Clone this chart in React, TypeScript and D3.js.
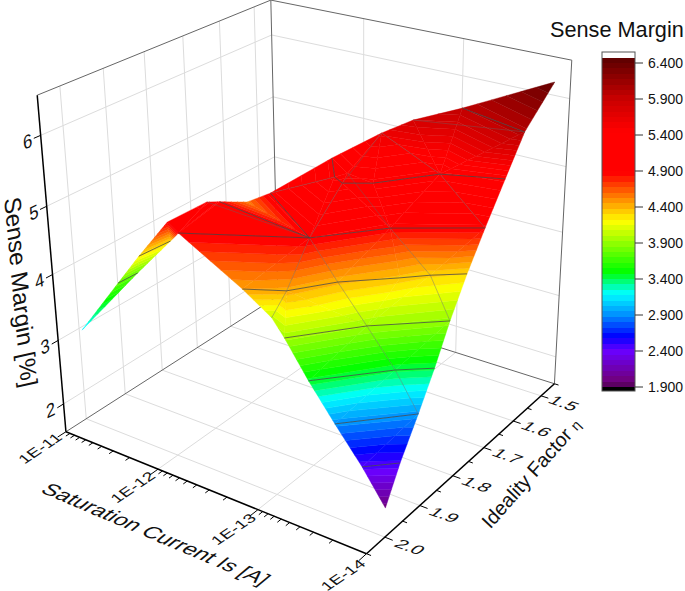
import React from 'react';
import * as d3 from 'd3';

const width = 685;
const height = 591;

// axis ranges
const isRange = [-11, -14]; // log10 of saturation current
const etaRange = [2.05, 1.45];
const zRange = [1.55, 6.55];

const isTicks = [-11, -12, -13, -14];
const isTickLabels = ['1E-11', '1E-12', '1E-13', '1E-14'];
const etaTicks = [1.5, 1.6, 1.7, 1.8, 1.9, 2.0];
const etaTickLabels = ['1.5', '1.6', '1.7', '1.8', '1.9', '2.0'];
const etaMinor = [1.45, 1.55, 1.65, 1.75, 1.85, 1.95, 2.05];
const zTicks = [2, 3, 4, 5, 6];
const barTicks = [1.9, 2.4, 2.9, 3.4, 3.9, 4.4, 4.9, 5.4, 5.9, 6.4];

// measured surface vertices
const surfaceIs = [
  -11.16, -11.33, -11.34, -11.56, -11.63, -11.89, -12.09, -11.99, -11.97, -11.88,
  -12.26, -12.97, -12.74, -13.01, -13.23, -12.92, -13.12, -13.51, -13.97, -13.33,
  -13.76, -13.99, -13.53, -13.98, -13.79, -14.01, -14.01, -13.70, -13.91, -13.36,
  -13.97, -13.55, -12.86, -12.78, -12.54, -12.82, -13.06, -13.40, -13.91, -12.82,
  -13.04, -13.35, -14.05, -14.03,
];
const surfaceEta = [
  2.026, 1.970, 1.924, 1.967, 1.905, 1.970, 1.992, 1.896, 1.859, 1.764,
  1.801, 1.894, 2.004, 1.966, 1.895, 1.981, 2.004, 1.900, 1.810, 2.003,
  1.898, 1.860, 1.993, 1.902, 1.998, 1.962, 2.002, 1.780, 1.740, 1.789,
  1.709, 1.820, 1.772, 1.770, 1.707, 1.746, 1.745, 1.655, 1.627, 1.646,
  1.621, 1.571, 1.622, 1.519,
];
const surfaceZ = [
  3.15, 3.75, 3.75, 4.25, 4.3, 4.9, 4.9, 5.0, 4.88, 4.55,
  4.95, 4.9, 4.45, 4.42, 4.4, 4.05, 3.95, 3.93, 3.9, 3.45,
  3.42, 3.42, 2.9, 2.92, 2.45, 2.48, 2.0, 4.32, 4.3, 4.87,
  4.88, 4.35, 5.25, 5.3, 5.3, 5.3, 5.25, 5.25, 5.3, 5.6,
  5.8, 5.95, 6.0, 6.42,
];
const triangles = [
  [0, 1, 2], [1, 3, 2], [2, 3, 4], [3, 5, 4], [4, 5, 6], [5, 7, 6], [6, 7, 8], [6, 8, 11], [8, 9, 11], [9, 10, 11],
  [10, 33, 11], [10, 34, 33], [6, 11, 12], [11, 13, 12], [11, 14, 13], [12, 13, 15], [13, 16, 15], [13, 17, 16], [13, 14, 17],
  [11, 33, 32], [11, 32, 29], [32, 36, 29], [11, 29, 14], [14, 29, 31], [31, 29, 27], [29, 30, 27], [27, 30, 28],
  [14, 31, 17], [31, 27, 17], [17, 27, 18], [27, 28, 18], [16, 17, 19], [17, 20, 19], [17, 18, 20], [18, 21, 20],
  [19, 20, 22], [20, 23, 22], [20, 21, 23], [22, 23, 24], [23, 25, 24], [24, 25, 26],
  [33, 35, 32], [35, 36, 32], [33, 34, 35], [34, 39, 35], [35, 39, 36], [36, 39, 37], [39, 40, 37], [40, 41, 37], [41, 42, 37],
  [41, 43, 42], [37, 42, 38], [36, 37, 29], [37, 30, 29], [37, 38, 30],
];
const rowLines = [
  [1, 2], [3, 4], [6, 11, 29, 30], [12, 13, 14, 31, 27, 28], [16, 17, 18], [19, 20, 21], [22, 23], [24, 25],
  [34, 33, 32, 36, 37, 38], [41, 42], [10, 11], [8, 11],
];
const meshLines = [
  [15, 13, 11, 32, 39], [11, 14, 17, 20, 23], [35, 29, 27, 18], [39, 37, 30], [10, 33], [7, 11], [40, 42],
];

const colorStops = [1.9, 2.0, 2.4, 2.6, 2.9, 3.2, 3.5, 4.2, 4.87, 5.45, 5.9, 6.4, 6.55];
const colorRange = ['#500050', '#70007f', '#6a00ff', '#0000ff', '#0090ff', '#00ffff', '#00ff00', '#ffff00', '#ff0000', '#ff0000', '#c80000', '#680000', '#500000'];
const color = d3.scaleLinear<string>().domain(colorStops).range(colorRange);

const levelStep = 0.075;
const levels = d3.range(0, 61).map(i => 1.9 + i * levelStep);

const toU = d3.scaleLinear().domain(isRange).range([0, 1]);
const toV = d3.scaleLinear().domain(etaRange).range([0, 1]);
const toW = d3.scaleLinear().domain(zRange).range([0, 1]);

// [log Is, eta, z, screen x, screen y] reference points of the axis frame
const anchors: number[][] = [
  [-11, 2.05, 1.55, 67, 433], [-14, 2.05, 1.55, 367, 553], [-14, 1.45, 1.55, 553, 383], [-11, 1.45, 1.55, 278, 296],
  [-11, 2.05, 6.55, 37, 97], [-11, 1.45, 6.55, 271, 0], [-14, 1.45, 6.55, 572, 60],
  [-11, 2.05, 2, 63, 403], [-11, 2.05, 3, 58, 339], [-11, 2.05, 4, 53, 275], [-11, 2.05, 5, 47, 205], [-11, 2.05, 6, 40, 135],
  [-14, 2, 1.55, 385, 537], [-14, 1.5, 1.55, 542, 397], [-12, 2.05, 1.55, 157, 470], [-13, 2.05, 1.55, 258, 510],
];

// least squares fit of the perspective camera
function fitCamera(pts: number[][]) {
  const n = 11;
  const A = d3.range(n).map(() => d3.range(n + 1).map(() => 0));
  pts.forEach(([x, e, z, sx, sy]) => {
    const u = toU(x), v = toV(e), w = toW(z);
    const rows = [
      [u, v, w, 1, 0, 0, 0, 0, -sx * u, -sx * v, -sx * w, sx],
      [0, 0, 0, 0, u, v, w, 1, -sy * u, -sy * v, -sy * w, sy],
    ];
    rows.forEach(r => {
      for (let i = 0; i < n; i++) for (let j = 0; j <= n; j++) A[i][j] += r[i] * r[j];
    });
  });
  for (let i = 0; i < n; i++) {
    let p = i;
    for (let k = i + 1; k < n; k++) if (Math.abs(A[k][i]) > Math.abs(A[p][i])) p = k;
    [A[i], A[p]] = [A[p], A[i]];
    for (let k = 0; k < n; k++) {
      if (k === i) continue;
      const f = A[k][i] / A[i][i];
      for (let j = i; j <= n; j++) A[k][j] -= f * A[i][j];
    }
  }
  return d3.range(n).map(i => A[i][n] / A[i][i]);
}
const P = fitCamera(anchors);

function project(x: number, e: number, z: number): [number, number] {
  const u = toU(x), v = toV(e), w = toW(z);
  const d = P[8] * u + P[9] * v + P[10] * w + 1;
  return [(P[0] * u + P[1] * v + P[2] * w + P[3]) / d, (P[4] * u + P[5] * v + P[6] * w + P[7]) / d];
}

const line = d3.line();
const seg = (a: number[], b: number[]) => line([project(a[0], a[1], a[2]), project(b[0], b[1], b[2])]) as string;

const [zMin, zMax] = zRange;
const [isL, isR] = isRange;
const [etaF, etaB] = etaRange;

// clip a triangle to one band of z values
function clipBand(tri: number[][], lo: number, hi: number) {
  const clip = (poly: number[][], keep: (p: number[]) => boolean, level: number) => {
    const out: number[][] = [];
    poly.forEach((p, i) => {
      const q = poly[(i + 1) % poly.length];
      if (keep(p)) out.push(p);
      if (keep(p) !== keep(q)) {
        const t = (level - p[2]) / (q[2] - p[2]);
        out.push([p[0] + t * (q[0] - p[0]), p[1] + t * (q[1] - p[1]), level]);
      }
    });
    return out;
  };
  return clip(clip(tri, p => p[2] >= lo, lo), p => p[2] <= hi, hi);
}

const vertex = (i: number) => [surfaceIs[i], surfaceEta[i], surfaceZ[i]];
const polyPath = (ids: number[]) => line(ids.map(i => project(surfaceIs[i], surfaceEta[i], surfaceZ[i]))) as string;

const bands: { d: string; fill: string }[] = [];
triangles.forEach(t => {
  const tri = t.map(vertex);
  levels.forEach(lo => {
    const poly = clipBand(tri, lo, lo + levelStep);
    if (poly.length < 3) return;
    bands.push({
      d: (line(poly.map(p => project(p[0], p[1], p[2]))) as string) + 'Z',
      fill: color(lo + levelStep / 2),
    });
  });
});

const barY = d3.scaleLinear().domain([1.9, 6.4]).range([387, 63]);

// log minor ticks of the current axis
const isMinor = [-12, -13, -14].flatMap(d => [9, 8, 7, 6, 5, 4, 3, 2].map(k => d + Math.log10(k)));

const font = 'Liberation Sans, Arial, sans-serif';

type LabelProps = { at: [number, number]; base: [number, number]; down: [number, number]; size: number; children: React.ReactNode; anchor?: string };
// text laid onto the plane of the box: base and down are the glyph axes
function Label({ at, base, down, size, children, anchor = 'middle' }: LabelProps) {
  return (
    <text
      transform={`matrix(${base[0]} ${base[1]} ${down[0]} ${down[1]} ${at[0]} ${at[1]})`}
      fontSize={size}
      textAnchor={anchor}
      dy="0.35em"
      fill="#111"
    >
      {children}
    </text>
  );
}

export default function App() {
  const gridColor = '#dcdcdc';
  const frameColor = '#666';
  return (
    <svg width={width} height={height} style={{ position: 'absolute', left: 0, top: 0 }} fontFamily={font}>
      <g fill="none" stroke={gridColor} strokeWidth={1}>
        {etaTicks.map(e => <path key={'fe' + e} d={seg([isL, e, zMin], [isR, e, zMin])} />)}
        {[-12, -13].map(x => <path key={'fx' + x} d={seg([x, etaF, zMin], [x, etaB, zMin])} />)}
        {etaTicks.map(e => <path key={'we' + e} d={seg([isL, e, zMin], [isL, e, zMax])} />)}
        {[-12, -13].map(x => <path key={'bx' + x} d={seg([x, etaB, zMin], [x, etaB, zMax])} />)}
        {zTicks.map(z => <path key={'wz' + z} d={seg([isL, etaF, z], [isL, etaB, z])} />)}
        {zTicks.map(z => <path key={'bz' + z} d={seg([isL, etaB, z], [isR, etaB, z])} />)}
      </g>
      <g fill="none" stroke={frameColor} strokeWidth={1}>
        <path d={seg([isL, etaF, zMin], [isL, etaB, zMin])} />
        <path d={seg([isL, etaB, zMin], [isR, etaB, zMin])} />
        <path d={seg([isL, etaB, zMin], [isL, etaB, zMax])} />
        <path d={seg([isL, etaF, zMax], [isL, etaB, zMax])} />
        <path d={seg([isL, etaB, zMax], [isR, etaB, zMax])} />
        <path d={seg([isR, etaB, zMax], [isR, etaB, zMin])} />
      </g>

      {bands.map((b, i) => <path key={i} d={b.d} fill={b.fill} stroke={b.fill} strokeWidth={0.4} />)}
      <g fill="none" stroke="#666" strokeOpacity={0.6} strokeWidth={0.7}>
        {meshLines.map((ids, i) => <path key={i} d={polyPath(ids)} />)}
      </g>
      <g fill="none" stroke="#444" strokeOpacity={0.85} strokeWidth={0.9}>
        {rowLines.map((ids, i) => <path key={i} d={polyPath(ids)} />)}
      </g>

      <g fill="none" stroke="#000" strokeWidth={1.5}>
        <path d={seg([isL, etaF, zMin], [isL, etaF, zMax])} />
        <path d={seg([isL, etaF, zMin], [isR, etaF, zMin])} />
        <path d={seg([isR, etaF, zMin], [isR, etaB, zMin])} />
      </g>
      <g fill="none" stroke="#000" strokeWidth={1}>
        {isTicks.map(x => <path key={x} d={seg([x, etaF, zMin], [x, etaF + 0.02, zMin])} />)}
        {isMinor.map(x => <path key={x} d={seg([x, etaF, zMin], [x, etaF + 0.01, zMin])} />)}
        {etaTicks.map(e => <path key={e} d={seg([isR, e, zMin], [isR - 0.07, e, zMin])} />)}
        {etaMinor.map(e => <path key={e} d={seg([isR, e, zMin], [isR - 0.04, e, zMin])} />)}
        {zTicks.map(z => <path key={z} d={seg([isL, etaF, z], [isL, etaF + 0.015, z])} />)}
      </g>

      {isTicks.map((x, i) => (
        <Label key={x} at={project(x, etaF + 0.062, zMin)} base={[0.83, -0.56]} down={[0.62, 0.5]} size={18}>
          {isTickLabels[i]}
        </Label>
      ))}
      {etaTicks.map((e, i) => (
        <Label key={e} at={project(isR - 0.22, e, zMin)} base={[0.93, 0.33]} down={[-0.6, 0.52]} size={20}>
          {etaTickLabels[i]}
        </Label>
      ))}
      {zTicks.map(z => {
        const [px, py] = project(isL, etaF, z);
        return (
          <Label key={z} at={[px - 13, py + 6]} base={[0.85, -0.42]} down={[0.1, 1]} size={19}>
            {z}
          </Label>
        );
      })}
      <Label at={[156, 534]} base={[0.92, 0.39]} down={[-0.72, 0.6]} size={22.5}>Saturation Current Is [A]</Label>
      <Label at={[531, 473]} base={[0.66, -0.75]} down={[0.72, 0.68]} size={20}>
        Ideality Factor <tspan fontSize={14}>η</tspan>
      </Label>
      <Label at={[21, 292]} base={[0.09, 1]} down={[-0.97, 0.22]} size={24}>Sense Margin [%]</Label>

      <text x={550} y={37} fontSize={21.7} fill="#111">Sense Margin</text>
      <rect x={602} y={52} width={33} height={339} fill="#fff" />
      {levels.map(lo => (
        <rect
          key={lo}
          x={602}
          width={33}
          y={Math.max(56, barY(lo + levelStep))}
          height={barY(lo) - Math.max(56, barY(lo + levelStep))}
          fill={color(lo + levelStep / 2)}
          shapeRendering="crispEdges"
        />
      ))}
      <rect x={602} y={387} width={33} height={4} fill="#000" />
      <rect x={602} y={52} width={33} height={339} fill="none" stroke="#555" strokeWidth={1} />
      {barTicks.map(t => (
        <g key={t}>
          <line x1={635} x2={643} y1={barY(t)} y2={barY(t)} stroke="#333" strokeWidth={1} />
          <text x={648} y={barY(t)} dy="0.36em" fontSize={14} fill="#111">{t.toFixed(3)}</text>
        </g>
      ))}
    </svg>
  );
}
